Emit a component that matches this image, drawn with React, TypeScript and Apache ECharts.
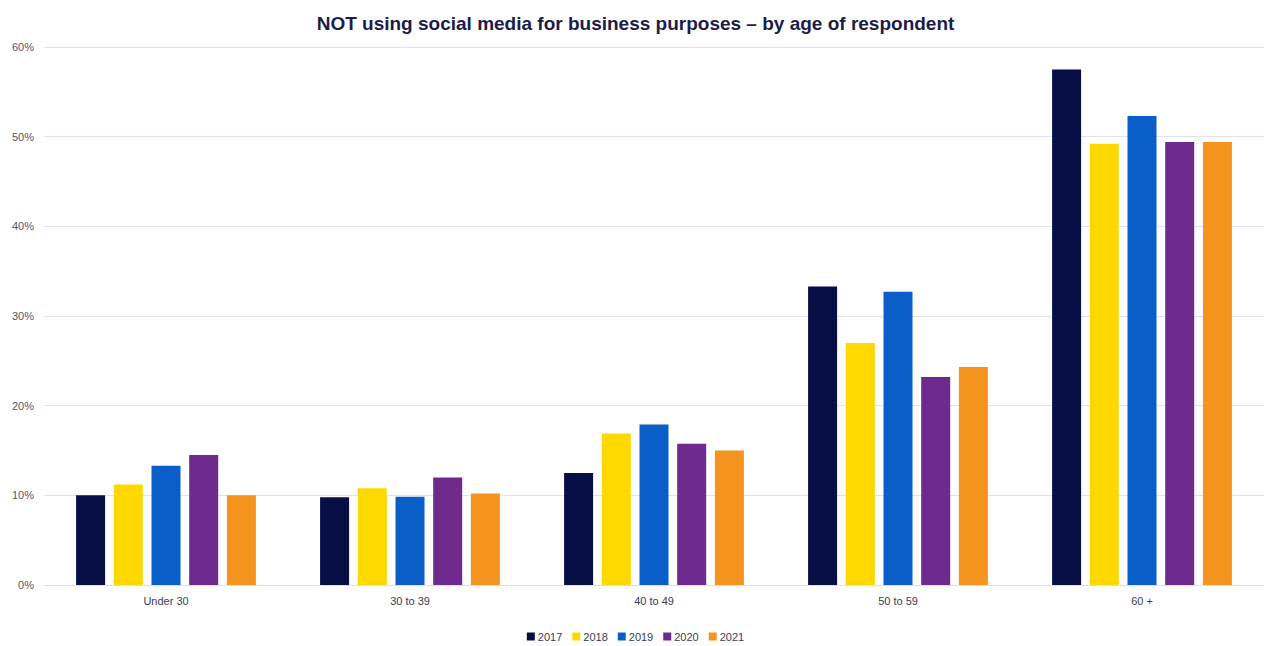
import React, { useEffect, useRef } from "react";
import * as echarts from "echarts";

const categories = ["Under 30", "30 to 39", "40 to 49", "50 to 59", "60 +"];
const years = ["2017", "2018", "2019", "2020", "2021"];
const values2017 = [10.0, 9.8, 12.5, 33.3, 57.5];
const values2018 = [11.2, 10.8, 16.9, 27.0, 49.2];
const values2019 = [13.3, 9.85, 17.9, 32.7, 52.3];
const values2020 = [14.5, 12.0, 15.75, 23.2, 49.4];
const values2021 = [10.0, 10.2, 15.0, 24.3, 49.4];
const colors = ["#070d45", "#ffd800", "#0a5ec7", "#6e2a8c", "#f5951f"];
const seriesData = [values2017, values2018, values2019, values2020, values2021];

export default function App() {
  const ref = useRef<HTMLDivElement>(null);
  useEffect(() => {
    if (!ref.current) return;
    const chart = echarts.init(ref.current, undefined, { renderer: "svg" });
    chart.setOption({
      animation: false,
      backgroundColor: "#ffffff",
      title: {
        text: "NOT using social media for business purposes \u2013 by age of respondent",
        left: "center",
        top: 9,
        textStyle: {
          fontFamily: "Liberation Sans, Arial, sans-serif",
          fontSize: 19,
          fontWeight: "bold",
          color: "#1c1c4a",
        },
      },
      legend: {
        data: years,
        top: 626,
        left: "center",
        itemWidth: 8,
        itemHeight: 8,
        itemGap: 10,
        icon: "rect",
        textStyle: {
          fontFamily: "Liberation Sans, Arial, sans-serif",
          fontSize: 11,
          color: "#3a3a5a",
          padding: [0, 0, 0, -2],
        },
      },
      grid: { left: 44, right: 7, top: 47, bottom: 61, containLabel: false },
      xAxis: {
        type: "category",
        data: categories,
        axisLine: { lineStyle: { color: "#dcdcf4" } },
        axisTick: { show: false },
        axisLabel: {
          margin: 10,
          fontFamily: "Liberation Sans, Arial, sans-serif",
          fontSize: 11,
          color: "#3a3a5a",
        },
      },
      yAxis: {
        type: "value",
        min: 0,
        max: 60,
        interval: 10,
        axisLine: { show: false },
        axisTick: { show: false },
        splitLine: { lineStyle: { color: "#e0e0f8", width: 1 } },
        axisLabel: {
          formatter: "{value}%",
          margin: 10,
          fontFamily: "Liberation Sans, Arial, sans-serif",
          fontSize: 11,
          color: "#55556e",
        },
      },
      series: years.map((y, i) => ({
        name: y,
        type: "bar",
        data: seriesData[i],
        barWidth: 29,
        barGap: "30%",
        itemStyle: { color: colors[i] },
      })),
    });
    return () => chart.dispose();
  }, []);
  return (
    <div
      ref={ref}
      style={{ position: "fixed", left: 0, top: 0, width: 1271, height: 646 }}
    />
  );
}
